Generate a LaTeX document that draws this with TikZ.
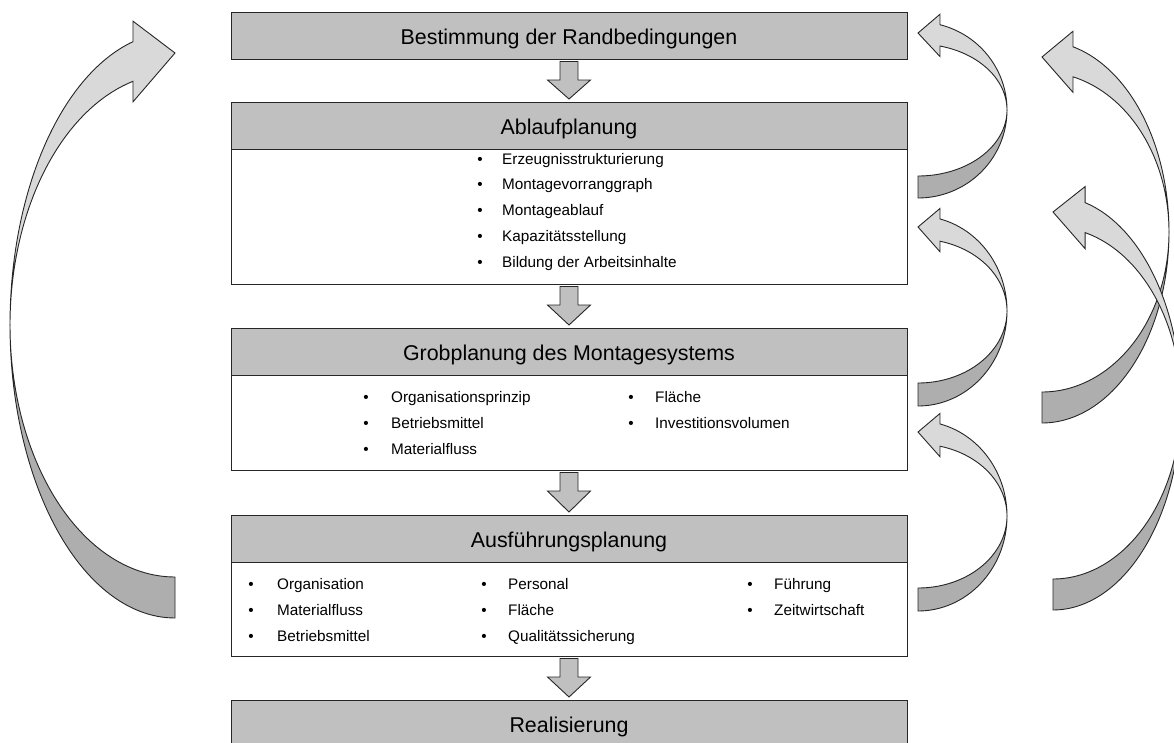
\documentclass[tikz,border=0pt]{standalone}
\usepackage{fontspec}
\setmainfont{Liberation Sans}
\usetikzlibrary{calc}

\definecolor{hdrgray}{HTML}{C0C0C0}
\definecolor{bandlight}{HTML}{D9D9D9}
\definecolor{banddark}{HTML}{AEAEAE}
\definecolor{edge}{HTML}{262626}

\tikzset{
  hdr/.style={draw=edge, fill=hdrgray, line width=1pt, minimum width=676pt,
    minimum height=47pt, inner sep=0pt, outer sep=0pt,
    text height=18pt, text depth=0pt,
    font=\fontsize{21.4}{25}\selectfont},
  panel/.style={draw=edge, fill=white, line width=1pt, minimum width=676pt,
    inner sep=0pt, outer sep=0pt, anchor=north},
  item/.style={anchor=base west, inner sep=0pt, font=\fontsize{15.3}{18}\selectfont},
  dot/.style={anchor=base, inner sep=0pt, font=\fontsize{15.3}{18}\selectfont},
  flow/.style={draw=edge, fill=hdrgray, line width=0.9pt, line join=miter},
  loopband/.style={draw=edge, line width=0.9pt, line join=miter},
}

% block arrow pointing down from one box to the next
\newcommand{\flowdown}[2]{%
  \filldraw[flow] ($(#1.south)+(-9,2.5)$) -- ($(#1.south)+(9,2.5)$)
    -- ($(#1.south)+(9,21)$) -- ($(#1.south)+(21.5,21)$)
    -- ($(#2.north)+(0,-3)$)
    -- ($(#1.south)+(-21.5,21)$) -- ($(#1.south)+(-9,21)$) -- cycle;}

% curved feedback arrow bulging to the right, head pointing left
% #1 cx, #2 cy, #3 x radius, #4 outer y radius, #5 inner y radius,
% #6 angle of the head, #7 barb overhang, #8 y of the tip
\newcommand{\rightloop}[8]{%
  \filldraw[loopband, fill=bandlight]
    plot[domain=-#6:0, samples=60] ({#1+#3*cos(\x)},{#2+#4*sin(\x)})
    -- plot[domain=0:-#6, samples=60] ({#1+#3*cos(\x)},{#2+#5*sin(\x)})
    -- ++(0,#7) -- (#1,#8)
    -- ({#1+#3*cos(#6)},{#2-#4*sin(#6)-#7}) -- cycle;
  \filldraw[loopband, fill=banddark]
    plot[domain=0:90, samples=60] ({#1+#3*cos(\x)},{#2+#4*sin(\x)})
    -- plot[domain=90:0, samples=60] ({#1+#3*cos(\x)},{#2+#5*sin(\x)}) -- cycle;}

% curved feedback arrow bulging to the left, head pointing right
\newcommand{\leftloop}[8]{%
  \filldraw[loopband, fill=bandlight]
    plot[domain=-#6:0, samples=60] ({#1-#3*cos(\x)},{#2+#4*sin(\x)})
    -- plot[domain=0:-#6, samples=60] ({#1-#3*cos(\x)},{#2+#5*sin(\x)})
    -- ++(0,#7) -- (#1,#8)
    -- ({#1-#3*cos(#6)},{#2-#4*sin(#6)-#7}) -- cycle;
  \filldraw[loopband, fill=banddark]
    plot[domain=0:90, samples=60] ({#1-#3*cos(\x)},{#2+#4*sin(\x)})
    -- plot[domain=90:0, samples=60] ({#1-#3*cos(\x)},{#2+#5*sin(\x)}) -- cycle;}

\begin{document}
\begin{tikzpicture}[x=1pt, y=-1pt]
  \useasboundingbox (0,0) rectangle (1174,742);
  \clip (0,0) rectangle (1174,742);

  % planning stages
  \node[hdr] (h1) at (569,35.5) {Bestimmung der Randbedingungen};

  \node[hdr] (h2) at (569,125.5) {Ablaufplanung};
  \node[panel, minimum height=135pt] (l2) at (h2.south) {};

  \node[hdr] (h3) at (569,351.5) {Grobplanung des Montagesystems};
  \node[panel, minimum height=95pt] (l3) at (h3.south) {};

  \node[hdr] (h4) at (569,538.5) {Ausführungsplanung};
  \node[panel, minimum height=94pt] (l4) at (h4.south) {};

  \node[hdr] (h5) at (569,723.5) {Realisierung};

  % contents of the stages
  \foreach \yy/\txt/\nm in {160/Erzeugnisstrukturierung/a1, 185/Montagevorranggraph/a2,
      211/Montageablauf/a3, 237/Kapazitätsstellung/a4, 263/Bildung der Arbeitsinhalte/a5}{
    \node[dot] (\nm d) at (480,\yy+4) {•};
    \node[item] (\nm) at (502,\yy+4) {\txt};
  }
  \foreach \xb/\xt/\yy/\txt/\nm in {366/391/398/Organisationsprinzip/g1,
      366/391/424/Betriebsmittel/g2, 366/391/450/Materialfluss/g3,
      631/655/398/Fläche/g4, 631/655/424/Investitionsvolumen/g5}{
    \node[dot] (\nm d) at (\xb,\yy+4) {•};
    \node[item] (\nm) at (\xt,\yy+4) {\txt};
  }
  \foreach \xb/\xt/\yy/\txt/\nm in {251/277/585/Organisation/f1,
      251/277/611/Materialfluss/f2, 251/277/637/Betriebsmittel/f3,
      484/508/585/Personal/f4, 484/508/611/Fläche/f5,
      484/508/637/Qualitätssicherung/f6,
      750/774/585/Führung/f7, 750/774/611/Zeitwirtschaft/f8}{
    \node[dot] (\nm d) at (\xb,\yy+4) {•};
    \node[item] (\nm) at (\xt,\yy+4) {\txt};
  }

  % downward flow between stages
  \flowdown{h1}{h2}
  \flowdown{l2}{h3}
  \flowdown{l3}{h4}
  \flowdown{l4}{h5}

  % feedback loops
  \leftloop{175}{325}{165}{293}{252}{75.25}{20.5}{53}
  \rightloop{918}{110}{89}{88}{66}{75.7}{10.5}{33}
  \rightloop{918}{311}{89}{95}{72}{75.7}{10.5}{227}
  \rightloop{918}{516}{89}{95}{72}{75.7}{10.5}{432}
  \rightloop{1042}{232}{127}{191}{160}{75.9}{15.5}{57}
  \rightloop{1053}{403}{128}{207}{176}{75.5}{16}{212}
\end{tikzpicture}
\end{document}
